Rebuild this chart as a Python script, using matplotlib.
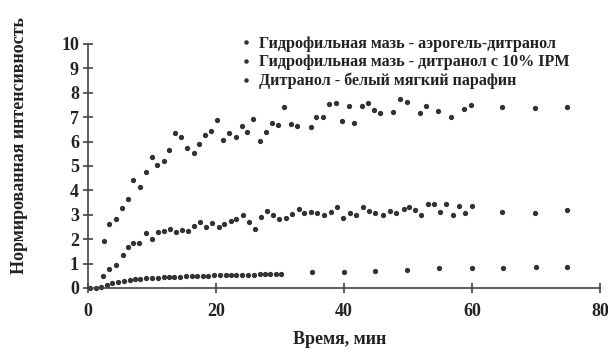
# Release kinetics: normalised intensity vs time

import matplotlib
matplotlib.use('Agg')
import matplotlib.pyplot as plt

labels = ['Гидрофильная мазь - аэрогель-дитранол',
          'Гидрофильная мазь - дитранол с 10% IPM',
          'Дитранол - белый мягкий парафин']

t_aerogel = [2.5, 3.3, 4.3, 5.3, 6.2, 7.1, 8.1, 9.0, 10.0, 10.8, 11.8, 12.7, 13.6, 14.5,
             15.5, 16.5, 17.3, 18.3, 19.2, 20.2, 21.1, 22.1, 23.1, 24.0, 24.9, 25.8, 26.9,
             27.8, 28.8, 29.7, 30.7, 31.7, 32.7, 34.8, 35.7, 36.7, 37.7, 38.7, 39.7, 40.8,
             41.6, 42.8, 43.7, 44.7, 45.7, 47.7, 48.7, 49.8, 51.8, 52.8, 54.7, 56.7, 58.7,
             59.8, 64.7, 69.8, 74.8]
i_aerogel = [1.93, 2.62, 2.83, 3.27, 3.66, 4.43, 4.15, 4.74, 5.36, 5.05, 5.2, 5.64, 6.34, 6.18,
             5.73, 5.55, 5.91, 6.27, 6.45, 6.89, 6.07, 6.34, 6.17, 6.64, 6.41, 6.91, 6.01,
             6.41, 6.75, 6.67, 7.4, 6.72, 6.64, 6.61, 7.0, 7.0, 7.54, 7.57, 6.84, 7.44,
             6.77, 7.46, 7.6, 7.3, 7.16, 7.23, 7.73, 7.64, 7.19, 7.46, 7.27, 7.0, 7.32,
             7.5, 7.43, 7.36, 7.43]

t_ipm = [2.4, 3.3, 4.3, 5.4, 6.3, 7.1, 8.0, 9.1, 10.0, 11.0, 11.9, 12.8, 13.8, 14.7, 15.7,
         16.6, 17.5, 18.4, 19.4, 20.4, 21.3, 22.3, 23.2, 24.2, 25.2, 26.1, 27.0, 27.9, 28.9,
         29.9, 30.9, 31.9, 32.9, 33.8, 34.8, 35.8, 36.9, 37.9, 38.9, 39.9, 40.9, 41.9, 42.9,
         43.9, 44.8, 46.1, 47.2, 48.2, 49.3, 50.1, 51.1, 52.1, 53.2, 54.0, 55.0, 56.0, 57.0,
         58.0, 58.9, 60.0, 64.7, 69.8, 74.8]
i_ipm = [0.49, 0.77, 0.94, 1.35, 1.67, 1.86, 1.86, 2.24, 2.02, 2.3, 2.33, 2.4, 2.3, 2.37, 2.33,
         2.54, 2.72, 2.51, 2.65, 2.51, 2.62, 2.75, 2.81, 2.99, 2.72, 2.4, 2.92, 3.16, 2.99,
         2.81, 2.86, 3.03, 3.24, 3.06, 3.13, 3.06, 2.99, 3.13, 3.3, 2.86, 3.09, 2.99, 3.3,
         3.17, 3.09, 2.99, 3.17, 3.06, 3.22, 3.33, 3.2, 2.99, 3.44, 3.44, 3.13, 3.44, 2.99,
         3.36, 3.09, 3.36, 3.13, 3.09, 3.2]

t_paraffin = [0.3, 1.2, 2.1, 3.0, 3.8, 4.7, 5.6, 6.5, 7.4, 8.2, 9.1, 10.0, 10.9, 11.8, 12.7,
              13.5, 14.4, 15.3, 16.2, 17.1, 17.9, 18.8, 19.7, 20.6, 21.5, 22.4, 23.2, 24.1,
              25.0, 25.9, 26.8, 27.6, 28.5, 29.4, 30.2, 35.0, 40.0, 44.9, 49.9, 54.9, 60.0,
              64.9, 70.0, 74.8]
i_paraffin = [0.0, 0.0, 0.03, 0.12, 0.19, 0.26, 0.30, 0.33, 0.36, 0.38, 0.40, 0.42, 0.43, 0.44,
              0.45, 0.46, 0.47, 0.48, 0.49, 0.50, 0.50, 0.51, 0.52, 0.52, 0.53, 0.53, 0.54,
              0.54, 0.55, 0.55, 0.56, 0.56, 0.56, 0.57, 0.57, 0.67, 0.67, 0.71, 0.74, 0.81,
              0.81, 0.81, 0.85, 0.87]

plt.rcParams['font.family'] = ['Liberation Serif', 'DejaVu Serif']
plt.rcParams['font.weight'] = 'bold'

fig = plt.figure(figsize=(6.08, 3.55), dpi=100)
ax = fig.add_axes([88/608, 67/355, 512/608, 244/355])

ink = '#333333'
for t, i, lab in zip([t_aerogel, t_ipm, t_paraffin], [i_aerogel, i_ipm, i_paraffin], labels):
    ax.plot(t, i, linestyle='none', marker='o', ms=2.8, color=ink, label=lab, clip_on=False)

ax.set_xlim(0, 80)
ax.set_ylim(0, 10)
ax.set_xticks([0, 20, 40, 60, 80])
ax.set_yticks(range(0, 11))
for s in ['top', 'right']:
    ax.spines[s].set_visible(False)
for s in ['left', 'bottom']:
    ax.spines[s].set_color('#444444')
    ax.spines[s].set_linewidth(1.2)
ax.tick_params(axis='both', direction='inout', length=7, width=1.2, color='#444444',
               labelsize=13, labelcolor='#222222')
ax.tick_params(axis='y', pad=3)
ax.tick_params(axis='x', pad=7)

fig.text(20/608, 1 - 145/355, 'Нормированная интенсивность', rotation=90,
         ha='center', va='center', fontsize=13, fontweight='bold', color='#222222')
fig.text(340/608, 1 - 340/355, 'Время, мин', ha='center', va='center',
         fontsize=13, fontweight='bold', color='#222222')

leg = ax.legend(loc='upper left', bbox_to_anchor=(240/608, 1 - 36/355),
                bbox_transform=fig.transFigure, frameon=False, fontsize=11.6,
                borderpad=0, borderaxespad=0, handlelength=0.7, handletextpad=0.5,
                labelspacing=0.15, markerscale=0.8)
for txt in leg.get_texts():
    txt.set_color('#222222')

fig.savefig('out.png', dpi=100, facecolor='white')
